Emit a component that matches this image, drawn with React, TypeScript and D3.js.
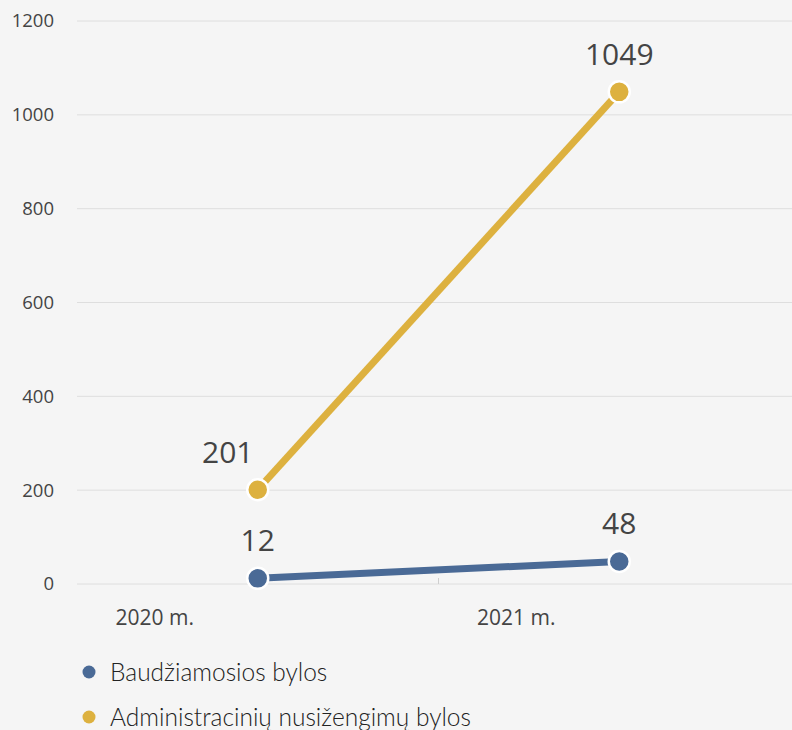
import React, { useRef, useEffect } from 'react';
import * as d3 from 'd3';

const categories = ['2020 m.', '2021 m.'];
const seriesNames = ['Baudžiamosios bylos', 'Administracinių nusižengimų bylos'];
const criminalCases = [12, 48];
const adminCases = [201, 1049];
const yTicks = [0, 200, 400, 600, 800, 1000, 1200];

const colors = ['#4a6a96', '#ddb13f'];

const App: React.FC = () => {
  const ref = useRef<SVGSVGElement | null>(null);
  const width = 792;
  const height = 730;

  useEffect(() => {
    if (!ref.current) return;
    const svg = d3.select(ref.current);
    svg.selectAll('*').remove();

    svg.append('rect').attr('width', width).attr('height', height).attr('fill', '#f5f5f5');

    const x = d3.scaleBand<string>().domain(categories).range([77, 800]);
    const y = d3.scaleLinear().domain([0, 1200]).range([584, 21]);
    const cx = (c: string) => (x(c) as number) + x.bandwidth() / 2;

    // grid
    svg
      .append('g')
      .selectAll('line')
      .data(yTicks)
      .join('line')
      .attr('x1', 77)
      .attr('x2', width)
      .attr('y1', d => y(d))
      .attr('y2', d => y(d))
      .attr('stroke', '#dedede')
      .attr('stroke-width', 1);

    // y tick labels
    svg
      .append('g')
      .selectAll('text')
      .data(yTicks)
      .join('text')
      .attr('x', 54)
      .attr('y', d => y(d))
      .attr('dy', '0.35em')
      .attr('text-anchor', 'end')
      .attr('font-family', '"Open Sans", sans-serif')
      .attr('font-size', 18.5)
      .attr('fill', '#444')
      .text(d => String(d));

    // category separator tick
    svg
      .append('line')
      .attr('x1', x(categories[1]) as number)
      .attr('x2', x(categories[1]) as number)
      .attr('y1', y(0) - 6)
      .attr('y2', y(0))
      .attr('stroke', '#cfcfcf');

    // x labels
    svg
      .append('g')
      .selectAll('text')
      .data(categories)
      .join('text')
      .attr('x', d => (x(d) as number) + x.bandwidth() * 0.215)
      .attr('y', 625)
      .attr('text-anchor', 'middle')
      .attr('font-family', '"Open Sans", sans-serif')
      .attr('font-size', 21)
      .attr('fill', '#444')
      .text(d => d);

    const series = [criminalCases, adminCases];
    // label x offsets to avoid overlap with lines
    const labelDx = [
      [0, 0],
      [-30, 0],
    ];
    const line = d3
      .line<number>()
      .x((_, i) => cx(categories[i]))
      .y(d => y(d));

    series.forEach((vals, si) => {
      svg
        .append('path')
        .datum(vals)
        .attr('fill', 'none')
        .attr('stroke', colors[si])
        .attr('stroke-width', 7)
        .attr('d', line);
    });

    series.forEach((vals, si) => {
      const g = svg.append('g');
      g.selectAll('circle')
        .data(vals)
        .join('circle')
        .attr('cx', (_, i) => cx(categories[i]))
        .attr('cy', d => y(d))
        .attr('r', 10.5)
        .attr('fill', colors[si])
        .attr('stroke', '#fff')
        .attr('stroke-width', 2.5);
      g.selectAll('text')
        .data(vals)
        .join('text')
        .attr('x', (_, i) => cx(categories[i]) + labelDx[si][i])
        .attr('y', d => y(d) - 27)
        .attr('text-anchor', 'middle')
        .attr('font-family', '"Open Sans", sans-serif')
        .attr('font-size', 30)
        .attr('fill', '#444')
        .text(d => String(d));
    });

    // legend
    const legend = svg.append('g');
    seriesNames.forEach((name, i) => {
      const ly = 672 + i * 45;
      legend
        .append('circle')
        .attr('cx', 89)
        .attr('cy', ly)
        .attr('r', 6.5)
        .attr('fill', colors[i]);
      legend
        .append('text')
        .attr('x', 110)
        .attr('y', ly)
        .attr('dy', '0.35em')
        .attr('font-family', 'Lato, sans-serif')
        .attr('font-weight', 300)
        .attr('font-size', 24.5)
        .attr('fill', '#222')
        .text(name);
    });
  }, []);

  return (
    <div style={{ position: 'absolute', left: 0, top: 0 }}>
      <svg ref={ref} width={width} height={height} style={{ display: 'block' }} />
    </div>
  );
};

export default App;
